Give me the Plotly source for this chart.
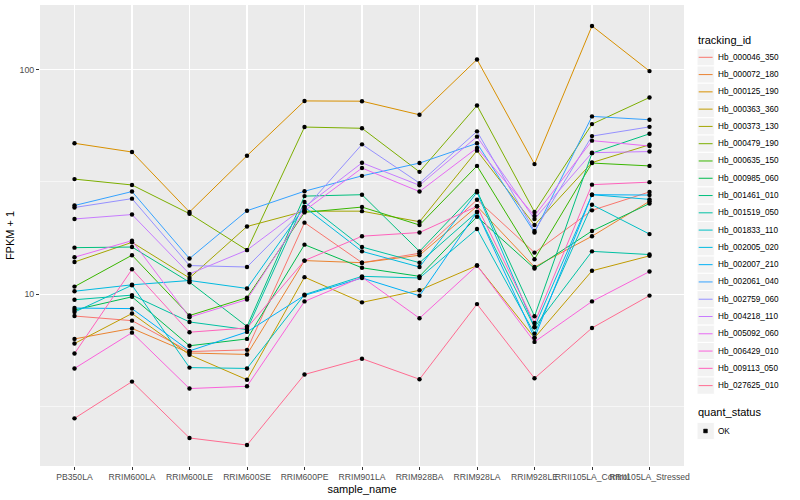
import math
import plotly.graph_objects as go

samples = ["PB350LA", "RRIM600LA", "RRIM600LE", "RRIM600SE", "RRIM600PE", "RRIM901LA",
           "RRIM928BA", "RRIM928LA", "RRIM928LE", "RRII105LA_Control", "RRII105LA_Stressed"]

tracking_ids = ["Hb_000046_350", "Hb_000072_180", "Hb_000125_190", "Hb_000363_360",
                "Hb_000373_130", "Hb_000479_190", "Hb_000635_150", "Hb_000985_060",
                "Hb_001461_010", "Hb_001519_050", "Hb_001833_110", "Hb_002005_020",
                "Hb_002007_210", "Hb_002061_040", "Hb_002759_060", "Hb_004218_110",
                "Hb_005092_060", "Hb_006429_010", "Hb_009113_050", "Hb_027625_010"]

# FPKM + 1 values, one list per tracking_id
Hb_000046_350 = [7.99, 7.62, 5.55, 5.65, 20.8, 13.8, 15.2, 26.3, 15.3, 23.6, 28.5]
Hb_000072_180 = [6.32, 7.04, 5.47, 5.39, 14.1, 13.8, 14.9, 24.6, 13.2, 18.1, 25.9]
Hb_000125_190 = [46.9, 42.9, 23.2, 41.3, 72.4, 72.2, 62.8, 110.7, 37.9, 156.1, 98.3]
Hb_000363_360 = [6.03, 8.20, 5.37, 4.16, 11.9, 9.19, 10.4, 13.4, 6.39, 12.7, 14.8]
Hb_000373_130 = [13.9, 17.0, 11.8, 20.0, 23.4, 23.4, 21.0, 43.5, 20.3, 38.5, 46.2]
Hb_000479_190 = [32.5, 30.6, 22.8, 15.7, 55.4, 54.7, 35.0, 69.1, 23.2, 57.1, 75.0]
Hb_000635_150 = [10.8, 14.9, 8.03, 9.65, 23.1, 24.4, 20.3, 37.2, 14.3, 38.3, 37.2]
Hb_000985_060 = [8.50, 9.73, 5.89, 6.32, 16.6, 13.1, 12.0, 22.1, 13.0, 19.1, 25.3]
Hb_001461_010 = [16.1, 16.2, 11.3, 7.18, 27.3, 27.7, 15.5, 28.8, 7.97, 42.4, 51.7]
Hb_001519_050 = [9.44, 9.90, 7.52, 6.95, 25.7, 16.2, 13.8, 23.2, 7.12, 15.5, 15.0]
Hb_001833_110 = [8.32, 10.96, 4.71, 4.67, 9.95, 12.0, 11.8, 19.5, 6.67, 25.0, 18.5]
Hb_002005_020 = [10.3, 11.0, 11.5, 10.6, 24.4, 15.5, 13.2, 28.4, 7.14, 27.7, 26.4]
Hb_002007_210 = [8.67, 8.62, 5.59, 6.79, 9.87, 11.8, 9.83, 23.2, 6.39, 27.7, 27.6]
Hb_002061_040 = [24.8, 28.6, 14.4, 23.5, 28.7, 33.6, 38.3, 46.9, 18.8, 61.8, 59.7]
Hb_002759_060 = [24.3, 26.6, 13.4, 13.2, 23.9, 46.4, 31.2, 53.0, 19.1, 50.5, 55.5]
Hb_004218_110 = [21.6, 22.6, 12.3, 15.7, 24.4, 38.4, 30.5, 50.2, 21.6, 42.6, 43.1]
Hb_005092_060 = [14.6, 17.3, 7.89, 9.46, 23.5, 36.4, 28.6, 44.7, 22.3, 48.2, 45.6]
Hb_006429_010 = [4.67, 6.74, 3.80, 3.89, 9.28, 11.9, 7.81, 13.4, 6.13, 9.28, 12.6]
Hb_009113_050 = [5.44, 12.9, 6.77, 7.07, 14.1, 18.1, 18.8, 24.6, 7.44, 30.7, 31.5]
Hb_027625_010 = [2.80, 4.08, 2.29, 2.13, 4.39, 5.16, 4.18, 9.03, 4.22, 7.07, 9.85]

series_values = [Hb_000046_350, Hb_000072_180, Hb_000125_190, Hb_000363_360, Hb_000373_130,
                 Hb_000479_190, Hb_000635_150, Hb_000985_060, Hb_001461_010, Hb_001519_050,
                 Hb_001833_110, Hb_002005_020, Hb_002007_210, Hb_002061_040, Hb_002759_060,
                 Hb_004218_110, Hb_005092_060, Hb_006429_010, Hb_009113_050, Hb_027625_010]

colors = ["#F8766D", "#EA8331", "#D89000", "#C09B00", "#A3A500", "#7CAE00", "#39B600",
          "#00BB4E", "#00BF7D", "#00C1A3", "#00BFC4", "#00BAE0", "#00B0F6", "#35A2FF",
          "#9590FF", "#C77CFF", "#E76BF3", "#FA62DB", "#FF62BC", "#FF6C91"]

quant_status = ["OK"]

W, H = 800, 500
PL, PR, PT, PB = 40, 684, 5, 466
FONT = "Liberation Sans, Arial, sans-serif"

fig = go.Figure()
for name, vals, col in zip(tracking_ids, series_values, colors):
    fig.add_trace(go.Scatter(x=samples, y=vals, mode="lines", name=name,
                             line=dict(color=col, width=1.0), showlegend=False))

pt_x, pt_y = [], []
for vals in series_values:
    pt_x += samples
    pt_y += vals
fig.add_trace(go.Scatter(x=pt_x, y=pt_y, mode="markers", name=quant_status[0],
                         marker=dict(color="black", size=4.4, symbol="circle"),
                         showlegend=False))

allv = [math.log10(v) for vals in series_values for v in vals]
lo, hi = min(allv), max(allv)
pad = (hi - lo) * 0.05

fig.update_xaxes(type="category", range=[-0.6, len(samples) - 0.4],
                 showgrid=True, gridcolor="white", gridwidth=1.1,
                 ticks="outside", ticklen=3, tickcolor="#333333", tickangle=0,
                 tickfont=dict(family=FONT, size=8.6, color="#4D4D4D"),
                 title=dict(text="sample_name", font=dict(family=FONT, size=11, color="black"), standoff=3),
                 zeroline=False, showline=False)
fig.update_yaxes(type="log", range=[lo - pad, hi + pad],
                 tickvals=[10, 100], ticktext=["10", "100"],
                 showgrid=True, gridcolor="white", gridwidth=1.1,
                 minor=dict(tickvals=[10 ** 0.5, 10 ** 1.5], showgrid=True, gridcolor="white",
                            gridwidth=0.55, ticklen=0),
                 ticks="outside", ticklen=3, tickcolor="#333333",
                 tickfont=dict(family=FONT, size=8.8, color="#4D4D4D"),
                 title=dict(text="FPKM + 1", font=dict(family=FONT, size=11, color="black"), standoff=2),
                 zeroline=False, showline=False)

def px_x(X):
    return (X - PL) / (PR - PL)

def px_y(Y):
    return (PB - Y) / (PB - PT)

shapes, annots = [], []
annots.append(dict(x=px_x(695.5), y=px_y(40.5), xref="paper", yref="paper", text="tracking_id",
                   showarrow=False, xanchor="left", yanchor="middle",
                   font=dict(family=FONT, size=11, color="black")))
step = 17.28
y0 = 57.3
for i, (name, col) in enumerate(zip(tracking_ids, colors)):
    cy = y0 + i * step
    shapes.append(dict(type="rect", xref="paper", yref="paper",
                       x0=px_x(697), x1=px_x(714.3), y0=px_y(cy - step / 2), y1=px_y(cy + step / 2),
                       fillcolor="#F2F2F2", line=dict(color="white", width=1), layer="above"))
    shapes.append(dict(type="line", xref="paper", yref="paper",
                       x0=px_x(698.7), x1=px_x(712.6), y0=px_y(cy), y1=px_y(cy),
                       line=dict(color=col, width=1.0), layer="above"))
    annots.append(dict(x=px_x(716.3), y=px_y(cy), xref="paper", yref="paper", text=name,
                       showarrow=False, xanchor="left", yanchor="middle",
                       font=dict(family=FONT, size=8.2, color="black")))

annots.append(dict(x=px_x(695.5), y=px_y(412.3), xref="paper", yref="paper", text="quant_status",
                   showarrow=False, xanchor="left", yanchor="middle",
                   font=dict(family=FONT, size=11, color="black")))
cy = 431
shapes.append(dict(type="rect", xref="paper", yref="paper",
                   x0=px_x(697), x1=px_x(714.3), y0=px_y(cy - step / 2), y1=px_y(cy + step / 2),
                   fillcolor="#F2F2F2", line=dict(color="white", width=1), layer="above"))
shapes.append(dict(type="rect", xref="paper", yref="paper",
                   x0=px_x(703.6), x1=px_x(707.4), y0=px_y(cy - 1.9), y1=px_y(cy + 1.9),
                   fillcolor="black", line=dict(color="black", width=0.5), layer="above"))
annots.append(dict(x=px_x(716.3), y=px_y(cy), xref="paper", yref="paper", text=quant_status[0],
                   showarrow=False, xanchor="left", yanchor="middle",
                   font=dict(family=FONT, size=8.2, color="black")))

fig.update_layout(width=W, height=H, paper_bgcolor="white", plot_bgcolor="#EBEBEB",
                  margin=dict(l=PL, r=W - PR, t=PT, b=H - PB, autoexpand=False),
                  showlegend=False, shapes=shapes, annotations=annots,
                  font=dict(family=FONT), hovermode=False)

fig.write_html("out.html", config={"displayModeBar": False, "staticPlot": True},
               post_script="document.body.style.margin='0';document.body.style.padding='0';")
